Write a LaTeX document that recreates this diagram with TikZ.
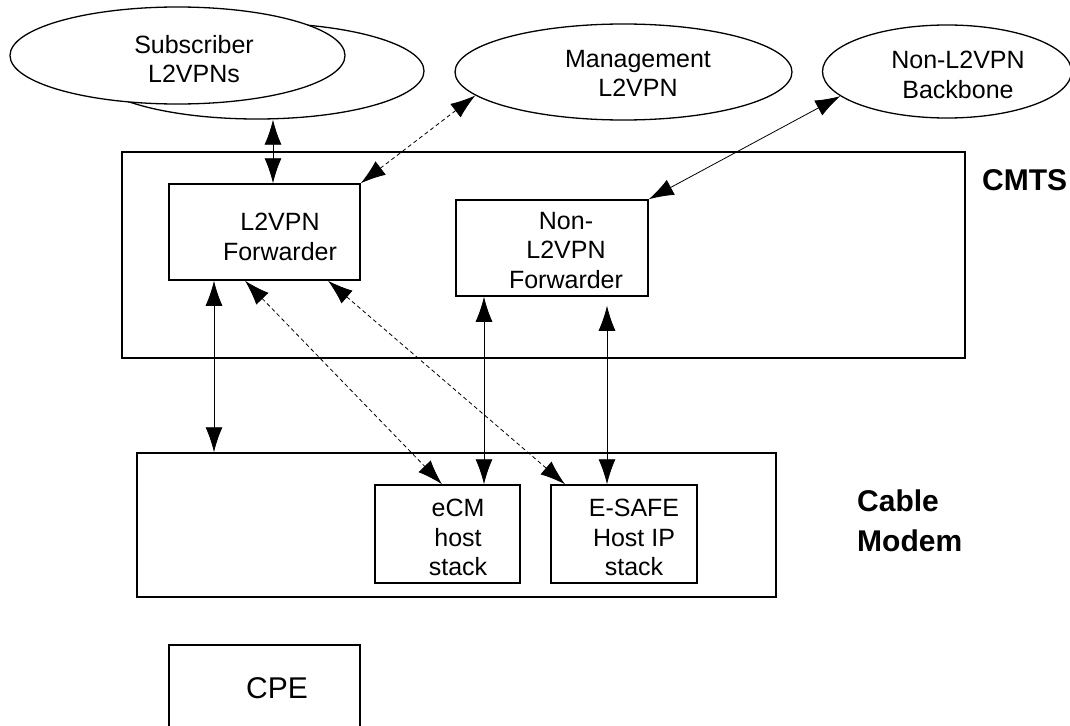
\documentclass[tikz,border=0pt]{standalone}
\usepackage{fontspec}
\setmainfont{Liberation Sans}
\usetikzlibrary{arrows.meta,shapes.geometric}
\begin{document}
\begin{tikzpicture}[x=1pt,y=-1pt,
  blob/.style={draw,ellipse,line width=1.3pt,inner sep=0pt},
  boxn/.style={draw,rectangle,line width=1.5pt,inner sep=0pt},
  txt/.style={inner sep=0pt,anchor=north,align=center,font=\fontsize{25}{29.5}\selectfont},
  bigtxt/.style={inner sep=0pt,anchor=north west,align=left,font=\fontsize{30}{40}\selectfont\bfseries},
  link/.style={line width=0.8pt,{Latex[length=25pt,width=17pt]}-{Latex[length=25pt,width=17pt]}},
  dlink/.style={link,dash pattern=on 4pt off 3pt}]
\useasboundingbox (0,0) rectangle (1070,725);
% ellipses
\node[blob,minimum width=334pt,minimum height=96pt] (subB) at (257,71) {};
\node[blob,fill=white,minimum width=335pt,minimum height=97pt] (subF) at (177.5,55.5) {};
\node[txt] (subT) at (194,35) {Subscriber\\L2VPNs};
\node[blob,minimum width=337pt,minimum height=96pt] (mgmt) at (623.5,72) {};
\node[txt] (mgmtT) at (638,50) {Management\\L2VPN};
\node[blob,minimum width=249pt,minimum height=93pt] (nl) at (947,71.5) {};
\node[txt] (nlT) at (958,51) {Non-L2VPN\\Backbone};
% CMTS
\node[boxn,minimum width=843pt,minimum height=206pt] (cmts) at (543.5,255) {};
\node[bigtxt] (cmtsT) at (982,169) {CMTS};
\node[boxn,minimum width=191pt,minimum height=96pt] (l2f) at (264.5,232) {};
\node[txt] (l2fT) at (280,213) {L2VPN\\Forwarder};
\node[boxn,minimum width=192pt,minimum height=96pt] (nlf) at (552,248) {};
\node[txt] (nlfT) at (566,212) {Non-\\L2VPN\\Forwarder};
% Cable modem
\node[boxn,minimum width=639pt,minimum height=144pt] (cm) at (456.5,525) {};
\node[bigtxt] (cmT) at (857,490) {Cable\\Modem};
\node[boxn,minimum width=145pt,minimum height=98pt] (ecm) at (447.5,534) {};
\node[txt] (ecmT) at (458,499) {eCM\\host\\stack};
\node[boxn,minimum width=146pt,minimum height=98pt] (esafe) at (624,534) {};
\node[txt] (esafeT) at (634,499) {E-SAFE\\Host IP\\stack};
% CPE
\node[boxn,minimum width=191pt,minimum height=120pt] (cpe) at (264.5,705) {};
\node[txt,font=\fontsize{30}{36}\selectfont] (cpeT) at (277,677) {CPE};
% connectors
\draw[link] ([xshift=16pt]subB.south) -- ([xshift=16pt]subB.south |- l2f.north);
\draw[dlink] (l2f.north east) -- (mgmt.189);
\draw[link] (nlf.north east) -- (nl.193);
\draw[link] ([xshift=-50.5pt]l2f.south) -- ([xshift=-50.5pt]l2f.south |- cm.north);
\draw[dlink] ([xshift=-19.5pt]l2f.south) -- ([xshift=-5.5pt]ecm.north);
\draw[dlink] ([xshift=63.5pt]l2f.south) -- ([xshift=-59pt]esafe.north);
\draw[link] ([xshift=-68pt]nlf.south) -- ([xshift=-68pt]nlf.south |- ecm.north);
\draw[link,shorten <=9pt] ([xshift=55pt]nlf.south) -- ([xshift=55pt]nlf.south |- esafe.north);
\end{tikzpicture}
\end{document}
